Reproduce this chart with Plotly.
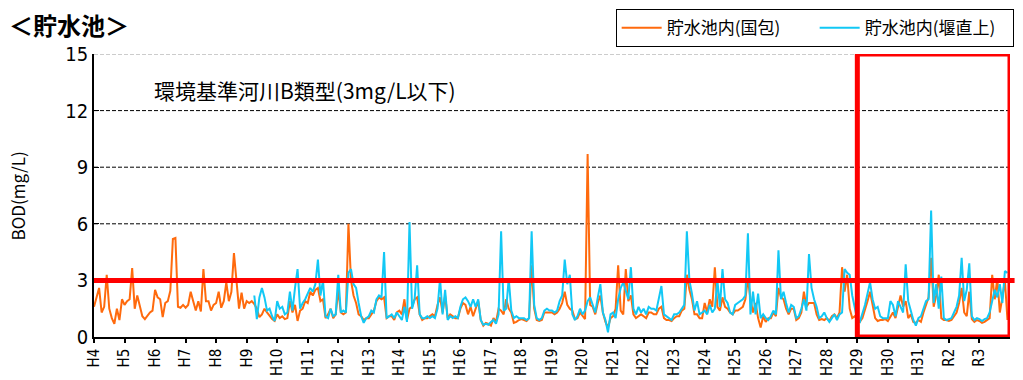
import plotly.graph_objects as go

# ---------------- data ----------------
year_labels = ["H4", "H5", "H6", "H7", "H8", "H9", "H10", "H11", "H12", "H13",
               "H14", "H15", "H16", "H17", "H18", "H19", "H20", "H21", "H22", "H23",
               "H24", "H25", "H26", "H27", "H28", "H29", "H30", "H31", "R2", "R3"]

# monthly BOD (mg/L), 貯水池内(国包), from H4
kunikane_bod = [
    1.6, 2.1, 2.6, 1.3, 1.6, 3.3, 1.5, 1.0, 0.7, 1.5, 0.9, 2.0,      # H4
    1.7, 1.9, 2.0, 3.65, 1.5, 2.2, 1.7, 1.1, 0.95, 1.15, 1.3, 1.4,   # H5
    2.5, 2.1, 2.0, 1.05, 1.8, 1.9, 2.45, 5.2, 5.25, 1.6, 1.55, 1.7,  # H6
    1.55, 1.7, 2.4, 1.9, 1.4, 1.9, 1.35, 3.6, 1.9, 1.9, 1.4, 1.7,    # H7
    1.8, 2.4, 1.55, 1.9, 2.9, 1.9, 2.4, 4.45, 2.95, 1.5, 2.35, 1.5,  # H8
    1.9, 1.8, 1.9, 1.75, 1.5, 1.05, 1.2, 1.5, 1.3, 1.1, 0.95, 0.85,  # H9
    1.2, 1.0, 1.1, 0.95, 1.0, 1.9, 1.3, 1.7, 0.85, 1.4, 1.5, 1.9,    # H10
    1.8, 2.4, 2.2, 2.5, 2.6, 1.9, 2.0, 1.0, 1.2, 1.5, 1.0, 1.2,      # H11
    2.5, 1.3, 1.2, 1.3, 6.0, 3.0, 2.2, 1.8, 1.2, 1.1, 0.9, 1.0,      # H12
    1.0, 1.2, 1.4, 1.9, 2.1, 2.0, 2.1, 1.0, 1.1, 1.1, 0.9, 1.3,      # H13
    1.4, 1.2, 2.0, 0.9, 1.5, 1.6, 2.0, 2.1, 1.2, 0.9, 1.0, 1.0,      # H14
    1.1, 1.2, 1.1, 1.7, 2.1, 1.3, 2.2, 1.0, 1.2, 1.1, 1.0, 1.0,      # H15
    1.5, 1.8, 1.7, 1.2, 1.6, 1.1, 1.5, 1.9, 0.9, 0.6, 0.75, 0.7,     # H16
    0.6, 1.0, 0.8, 1.5, 1.4, 1.2, 2.0, 1.5, 1.3, 0.75, 0.8, 0.9,     # H17
    0.95, 0.9, 0.85, 1.0, 3.8, 1.5, 0.9, 0.85, 0.9, 1.3, 1.3, 1.3,   # H18
    1.3, 1.2, 1.3, 1.5, 1.8, 2.4, 1.7, 1.5, 1.4, 0.95, 1.0, 1.3,     # H19
    1.1, 0.95, 9.7, 1.7, 1.6, 1.2, 1.8, 2.2, 1.3, 0.8, 0.5, 1.0,     # H20
    1.1, 1.5, 3.8, 1.4, 1.2, 3.6, 1.9, 2.2, 1.2, 1.0, 1.1, 1.2,      # H21
    1.1, 1.0, 1.3, 1.3, 1.2, 1.2, 1.5, 1.6, 1.0, 0.9, 0.9, 0.85,     # H22
    1.0, 1.1, 1.1, 1.4, 1.5, 3.3, 2.5, 2.0, 1.2, 1.2, 1.0, 1.0,      # H23
    1.8, 1.3, 2.0, 1.6, 3.7, 1.6, 1.4, 2.1, 1.6, 1.5, 1.3, 1.2,      # H24
    1.4, 1.4, 1.5, 1.6, 2.0, 3.1, 2.0, 1.3, 1.8, 1.0, 0.5, 1.1,      # H25
    0.8, 1.0, 1.0, 1.3, 1.1, 2.6, 2.1, 2.0, 1.5, 1.2, 1.5, 1.5,      # H26
    0.9, 1.0, 1.3, 2.4, 1.6, 1.8, 1.8, 1.8, 1.2, 0.9, 0.95, 0.9,     # H27
    1.0, 0.85, 1.1, 1.2, 1.0, 1.3, 3.7, 2.4, 3.3, 1.5, 1.0, 1.1,     # H28
    0.9, 0.8, 1.0, 1.4, 1.9, 2.4, 1.7, 1.0, 0.85, 0.9, 0.9, 0.95,    # H29
    0.85, 1.1, 1.3, 1.0, 1.7, 2.2, 1.6, 1.9, 1.0, 1.2, 0.8, 0.75,    # H30
    0.9, 0.8, 1.3, 1.7, 2.1, 4.2, 1.6, 2.2, 3.3, 1.0, 0.9, 0.9,      # H31
    0.85, 0.9, 1.1, 1.3, 1.8, 2.6, 1.3, 1.1, 2.4, 0.95, 0.8, 0.9,    # R2
    0.85, 0.75, 0.8, 0.9, 1.0, 3.3, 2.0, 3.1, 1.3, 2.1, 3.0, 0.9,    # R3
]

# monthly BOD (mg/L), 貯水池内(堰直上), starts in H9 (4th month)
weir_start_month = 63
weir_bod = [
    2.2, 0.95, 2.1, 2.6, 2.1, 1.4, 1.5, 1.1, 0.85,                   # H9
    1.9, 1.5, 1.6, 1.2, 1.3, 2.4, 1.4, 2.6, 3.6, 1.5, 1.8, 2.0,      # H10
    2.3, 2.6, 2.4, 2.8, 4.1, 2.2, 3.0, 1.1, 1.0, 1.5, 1.1, 1.2,      # H11
    3.3, 1.3, 1.4, 1.3, 3.4, 3.6, 2.8, 2.6, 1.8, 1.1, 0.75, 1.0,     # H12
    1.1, 1.4, 1.3, 2.0, 2.2, 2.1, 4.5, 1.0, 1.1, 1.2, 1.0, 1.3,      # H13
    1.1, 0.9, 1.6, 0.8, 6.1, 1.5, 2.0, 3.8, 1.2, 1.0, 1.0, 1.1,      # H14
    1.0, 1.1, 1.0, 1.5, 3.1, 1.2, 2.5, 0.9, 1.1, 1.0, 1.1, 1.0,      # H15
    1.6, 2.0, 2.1, 1.9, 1.6, 2.0, 1.6, 2.0, 0.9, 0.65, 0.7, 0.65,    # H16
    0.8, 0.9, 0.7, 1.2, 5.6, 1.4, 1.5, 3.1, 1.4, 1.0, 1.1, 1.0,      # H17
    1.0, 1.0, 0.9, 1.0, 5.6, 1.7, 1.0, 0.9, 1.0, 1.4, 1.5, 1.4,      # H18
    1.4, 1.3, 1.4, 1.9, 2.2, 4.1, 2.8, 3.3, 1.2, 0.9, 1.1, 1.5,      # H19
    1.2, 1.4, 1.9, 2.1, 1.7, 1.3, 2.1, 2.8, 1.3, 0.9, 0.25, 1.2,     # H20
    1.3, 1.0, 2.0, 2.6, 2.9, 2.4, 2.0, 3.7, 1.5, 1.2, 1.6, 1.3,      # H21
    1.5, 1.2, 1.6, 1.5, 1.5, 1.4, 2.1, 2.7, 1.2, 1.1, 1.0, 0.9,      # H22
    1.2, 1.2, 1.3, 1.5, 1.7, 5.6, 3.0, 2.3, 1.4, 1.9, 1.2, 1.3,      # H23
    1.4, 1.2, 1.7, 1.3, 1.5, 3.0, 1.6, 3.6, 2.0, 1.8, 1.3, 1.2,      # H24
    1.7, 1.8, 1.9, 2.0, 2.2, 5.5, 1.2, 2.4, 1.2, 2.3, 1.0, 1.2,      # H25
    1.0, 0.9, 1.1, 1.4, 1.2, 4.6, 2.0, 2.4, 1.8, 1.3, 1.7, 1.6,      # H26
    1.0, 1.1, 1.5, 2.0, 1.4, 4.4, 2.6, 2.0, 1.6, 1.0, 1.1, 1.3,      # H27
    1.0, 0.8, 1.0, 1.2, 0.9, 1.2, 1.3, 3.6, 3.4, 3.3, 2.2, 1.5,      # H28
    0.9, 0.8, 1.2, 1.7, 2.3, 2.9, 2.0, 1.5, 1.6, 1.1, 1.0, 1.0,      # H29
    1.0, 1.9, 1.7, 1.1, 1.9, 1.6, 1.3, 3.85, 1.9, 1.4, 0.9, 0.6,     # H30
    1.0, 1.1, 1.5, 1.9, 2.0, 6.7, 1.8, 2.8, 1.5, 3.2, 1.0, 0.9,      # H31
    0.95, 1.0, 1.3, 1.6, 2.2, 4.2, 1.9, 2.5, 3.9, 1.1, 0.9, 1.0,     # R2
    0.95, 0.85, 0.95, 1.0, 1.3, 1.9, 2.5, 2.1, 2.8, 1.8, 3.5, 3.4,   # R3
]

env_standard = 3          # 環境基準河川B類型 (mg/L)
highlight_from_year = "H29"
y_ticks = [0, 3, 6, 9, 12, 15]

# ---------------- figure ----------------
n_months = 12 * len(year_labels)
x_kunikane = list(range(len(kunikane_bod)))
x_weir = list(range(weir_start_month, weir_start_month + len(weir_bod)))

ORANGE = "#FF6A0D"
CYAN = "#12C8F5"
RED = "#FF0000"
JP = "Noto Sans CJK JP"
NUM = "DejaVu Sans Condensed, Liberation Sans Narrow, Liberation Sans"

fig = go.Figure()
fig.add_trace(go.Scatter(x=x_kunikane, y=kunikane_bod, mode="lines",
                         name="貯水池内(国包)",
                         line=dict(color=ORANGE, width=2)))
fig.add_trace(go.Scatter(x=x_weir, y=weir_bod, mode="lines",
                         name="貯水池内(堰直上)",
                         line=dict(color=CYAN, width=2)))

# grid lines
for g in y_ticks[2:]:
    fig.add_shape(type="line", xref="paper", yref="y", x0=0, x1=1, y0=g, y1=g,
                  line=dict(color="#999999" if g == y_ticks[-1] else "black",
                            width=1, dash="4px,2px"), layer="below")

# environmental standard line
fig.add_shape(type="line", xref="paper", yref="y", x0=0, x1=1.005,
              y0=env_standard, y1=env_standard,
              line=dict(color=RED, width=5), layer="above")

# highlight box (H29 -)
hl_start = 12 * year_labels.index(highlight_from_year)
fig.add_shape(type="rect", xref="x", yref="y", x0=hl_start, x1=n_months,
              y0=0, y1=y_ticks[-1],
              line=dict(color=RED, width=5), fillcolor="rgba(0,0,0,0)",
              layer="above")

fig.add_annotation(text="環境基準河川B類型(3mg/L以下)", xref="paper", yref="y",
                   x=0.063, y=12.2, xanchor="left", yanchor="bottom",
                   showarrow=False, font=dict(family=JP, size=21, color="black"))

fig.add_annotation(text="<b>＜貯水池＞</b>", xref="paper", yref="paper",
                   x=-0.095, y=1.105, xanchor="left", yanchor="middle",
                   showarrow=False, font=dict(family=JP, size=24, color="black"))

fig.add_annotation(text="BOD(mg/L)", xref="paper", yref="paper",
                   x=-0.083, y=0.5, xanchor="center", yanchor="middle",
                   textangle=-90, showarrow=False,
                   font=dict(family=JP, size=17, color="black"))

fig.update_layout(
    width=1023, height=380,
    margin=dict(l=94, r=9, t=52, b=43),
    paper_bgcolor="white", plot_bgcolor="white",
    font=dict(family=JP, color="black"),
    showlegend=True,
    legend=dict(orientation="h", x=1.004, xanchor="right", y=1.158, yanchor="top",
                bordercolor="black", borderwidth=1, bgcolor="white",
                font=dict(family=JP, size=17), itemwidth=40,
                entrywidth=143, tracegroupgap=0),
    xaxis=dict(range=[0, n_months], tickmode="array",
               tickvals=[12 * i for i in range(len(year_labels))],
               ticktext=year_labels, tickangle=-90,
               ticks="outside", ticklen=4, tickwidth=1.5, tickcolor="black",
               showline=True, linecolor="black", linewidth=1.5,
               showgrid=False, zeroline=False, automargin=False,
               tickfont=dict(family=NUM, size=15)),
    yaxis=dict(range=[0, 15], tickvals=y_ticks,
               ticks="inside", ticklen=5, tickcolor="black",
               showline=True, linecolor="black", linewidth=1.5,
               showgrid=False, zeroline=False, automargin=False,
               tickfont=dict(family=NUM, size=20)),
)

fig.write_html("out.html")
